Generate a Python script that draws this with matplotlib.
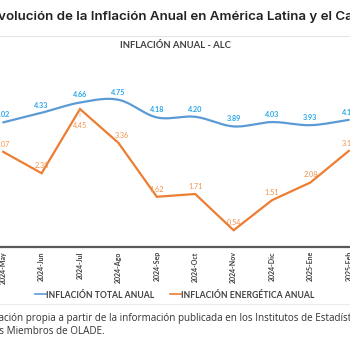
import numpy as np
import matplotlib
matplotlib.use("Agg")
import matplotlib.pyplot as plt
from matplotlib.lines import Line2D

plt.rcParams['font.family'] = ['Lato', 'DejaVu Sans']

# datos
meses = ['2024-May', '2024-Jun', '2024-Jul', '2024-Ago', '2024-Sep',
         '2024-Oct', '2024-Nov', '2024-Dic', '2025-Ene', '2025-Feb']
inflacion_total = [4.02, 4.33, 4.66, 4.75, 4.18, 4.20, 3.89, 4.03, 3.93, 4.10]
inflacion_energetica = [3.07, 2.38, 4.45, 3.36, 1.62, 1.71, 0.54, 1.51, 2.08, 3.10]

titulo = 'Evolución de la Inflación Anual en América Latina y el Caribe'
subtitulo = 'INFLACIÓN ANUAL - ALC'
nombres_series = ['INFLACIÓN TOTAL ANUAL', 'INFLACIÓN ENERGÉTICA ANUAL']
fuente_1 = 'Elaboración propia a partir de la información publicada en los Institutos de Estadística de los'
fuente_2 = 'Países Miembros de OLADE.'

AZUL = '#5B9BD5'
AZUL_TXT = '#2AA6E8'
NARANJA = '#ED7D31'
NARANJA_TXT = '#F0924A'

W = H = 350.0


def fx(x):
    return x / W


def fy(y):
    return 1 - y / H


def suavizar(xs, ys, n=24):
    # curva tipo Excel (Catmull-Rom pasado a Bezier)
    xs = np.asarray(xs, float)
    ys = np.asarray(ys, float)
    px = np.concatenate([[2 * xs[0] - xs[1]], xs, [2 * xs[-1] - xs[-2]]])
    py = np.concatenate([[2 * ys[0] - ys[1]], ys, [2 * ys[-1] - ys[-2]]])
    ox, oy = [], []
    t = np.linspace(0, 1, n)
    for i in range(1, len(px) - 2):
        p0 = np.array([px[i], py[i]])
        p3 = np.array([px[i + 1], py[i + 1]])
        p1 = p0 + (np.array([px[i + 1], py[i + 1]]) - np.array([px[i - 1], py[i - 1]])) / 6
        p2 = p3 - (np.array([px[i + 2], py[i + 2]]) - np.array([px[i], py[i]])) / 6
        b = ((1 - t) ** 3)[:, None] * p0 + (3 * (1 - t) ** 2 * t)[:, None] * p1 \
            + (3 * (1 - t) * t ** 2)[:, None] * p2 + (t ** 3)[:, None] * p3
        ox.extend(b[:, 0])
        oy.extend(b[:, 1])
    return ox, oy


fig = plt.figure(figsize=(3.5, 3.5), dpi=100)
fig.patch.set_facecolor('white')

# titulo (recortado a los lados como en la captura)
fig.text(fx(-10), fy(17), titulo, ha='left', va='center', fontsize=9.6,
         family=['Inter', 'DejaVu Sans'], weight='semibold', color='#222222')
fig.add_artist(Line2D([0, 1], [fy(36), fy(36)], color='#e6e6e6', lw=0.8))
fig.text(fx(175), fy(45), subtitulo, ha='center', va='center', fontsize=6.8,
         weight='bold', color='#404040')

ax = fig.add_axes([fx(-16), fy(247), 384 / W, 186 / H])
x = np.arange(len(meses))

sx, sy = suavizar(x, inflacion_total)
ax.plot(sx, sy, color=AZUL, lw=1.6, solid_capstyle='round')
ax.plot(x, inflacion_energetica, color=NARANJA, lw=1.6, solid_joinstyle='miter')

for i, v in enumerate(inflacion_total):
    ax.annotate(f'{v:.2f}', (i, v), xytext=(0, 5.5), textcoords='offset points',
                ha='center', va='center', fontsize=5.2, weight='bold', color=AZUL_TXT)

for i, v in enumerate(inflacion_energetica):
    if meses[i] == '2024-Jul':
        ax.annotate(f'{v:.2f}', (i, v), xytext=(0, -12), textcoords='offset points',
                    ha='center', va='center', fontsize=5.2, color=NARANJA_TXT,
                    arrowprops=dict(arrowstyle='-', color='#bfbfbf', lw=0.5,
                                    shrinkA=2, shrinkB=1))
    else:
        dx = 2.5 if meses[i] == '2024-Ago' else 0
        ax.annotate(f'{v:.2f}', (i, v), xytext=(dx, 5.5), textcoords='offset points',
                    ha='center', va='center', fontsize=5.2, color=NARANJA_TXT)

ax.set_xlim(-0.5, len(meses) - 0.5)
ax.set_ylim(0, 6)
ax.set_xticks(x)
ax.set_xticklabels(meses, rotation=90, fontsize=5, weight='bold', color='#404040')
ax.tick_params(axis='x', length=0, pad=3)
ax.set_yticks([])
for s in ['left', 'right', 'top']:
    ax.spines[s].set_visible(False)
ax.spines['bottom'].set_color('#595959')
ax.spines['bottom'].set_linewidth(1.6)
ax.patch.set_alpha(0)

handles = [Line2D([], [], color=AZUL, lw=1.2), Line2D([], [], color=NARANJA, lw=1.2)]
fig.legend(handles, nombres_series, loc='center', bbox_to_anchor=(0.5, fy(295)),
           ncol=2, frameon=False, handlelength=1.2, handletextpad=0.1,
           columnspacing=1.8, prop=dict(family=['Lato', 'DejaVu Sans'], weight='bold', size=6.2),
           labelcolor='#404040')

fig.add_artist(Line2D([0, 1], [fy(304), fy(304)], color='#ececec', lw=0.8))
fig.text(fx(-31), fy(318), fuente_1, ha='left', va='center', fontsize=7.1,
         family=['Open Sans', 'DejaVu Sans'], color='#333333')
fig.text(fx(-25), fy(331), fuente_2, ha='left', va='center', fontsize=7.1,
         family=['Open Sans', 'DejaVu Sans'], color='#333333')

fig.savefig('out.png', dpi=100)
